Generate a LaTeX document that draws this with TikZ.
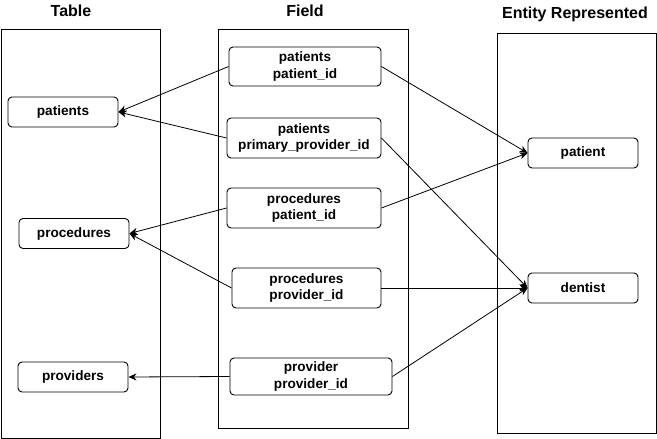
\documentclass[tikz,border=0pt]{standalone}
\usepackage{fontspec}
\setmainfont{Liberation Sans}
\usetikzlibrary{arrows.meta}
\begin{document}
\begin{tikzpicture}[x=1pt,y=-1pt,
  item/.style={draw,line width=0.9pt,rounded corners=4pt,inner sep=0pt,align=center,
    font=\fontsize{13.6}{16.5}\selectfont\bfseries},
  title/.style={font=\fontsize{16}{18}\selectfont\bfseries,inner sep=0pt},
  link/.style={line width=0.8pt,-{Stealth[length=8pt,width=7pt,inset=2.5pt]}}]
\useasboundingbox (0,0) rectangle (657,439);
% containers
\draw[line width=0.9pt] (1,29) rectangle (160,438);
\draw[line width=0.9pt] (218,29) rectangle (408,428);
\draw[line width=0.9pt] (497,33) rectangle (656,433);
% titles
\node[title] (tTable) at (71,10.5) {Table};
\node[title] (tField) at (305,10.5) {Field};
\node[title] (tEntity) at (575,14) {Entity Represented};
% table nodes
\node[item,minimum width=110pt,minimum height=30pt] (patients) at (63,112) {patients};
\node[item,minimum width=110pt,minimum height=30pt] (procedures) at (74,233.5) {procedures};
\node[item,minimum width=110pt,minimum height=30pt] (providers) at (73,377) {providers};
% field nodes
\node[item,minimum width=152pt,minimum height=39pt] (f1) at (305,66.5) {patients\\patient\_id};
\node[item,minimum width=154pt,minimum height=40pt] (f2) at (304,138) {patients\\primary\_provider\_id};
\node[item,minimum width=154pt,minimum height=40pt] (f3) at (304,208) {procedures\\patient\_id};
\node[item,minimum width=149pt,minimum height=40pt] (f4) at (306.5,288) {procedures\\provider\_id};
\node[item,minimum width=162pt,minimum height=37pt] (f5) at (311,376.5) {provider\\provider\_id};
% entity nodes
\node[item,minimum width=110pt,minimum height=30pt] (patient) at (583,153) {patient};
\node[item,minimum width=110pt,minimum height=30pt] (dentist) at (583,288) {dentist};
% links to tables
\draw[link] (f1.west) -- (patients.east);
\draw[link] (f2.west) -- (patients.east);
\draw[link] (f3.west) -- (procedures.east);
\draw[link] (f4.west) -- (procedures.east);
\draw[link] (f5.west) -- (providers.east);
% links to entities
\draw[link] (f1.east) -- (patient.west);
\draw[link] (f2.east) -- (dentist.west);
\draw[link] (f3.east) -- (patient.west);
\draw[link] (f4.east) -- (dentist.west);
\draw[link] (f5.east) -- (dentist.west);
\end{tikzpicture}
\end{document}
